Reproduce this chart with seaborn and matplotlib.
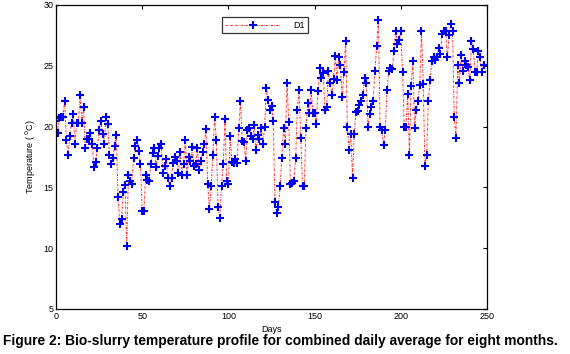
import numpy as np
import pandas as pd
import matplotlib
matplotlib.use("Agg")
import matplotlib.pyplot as plt
import seaborn as sns

temps = [
    # days 0-45
    20.5, 19.5, 20.7, 20.8, 20.8, 22.1, 18.9, 17.7, 19.2, 20.3,
    21.0, 18.6, 20.3, 20.3, 22.6, 20.3, 21.6, 18.2, 19.0, 19.0,
    19.5, 18.6, 16.7, 17.1, 18.2, 19.7, 20.5, 19.4, 18.6, 20.8,
    20.2, 17.7, 16.9, 17.4, 18.4, 19.3, 14.2, 12.0, 12.4, 14.6,
    15.2, 10.2, 16.0, 15.5, 15.3, 17.4,
    # days 46-89
    18.4, 18.9, 18.0, 16.9, 13.1, 13.1, 16.0, 15.6, 15.5, 16.9,
    17.8, 18.2, 16.7, 17.6, 18.2, 18.6, 16.2, 16.8, 17.3, 15.8,
    15.1, 15.8, 17.0, 17.5, 17.2, 16.2, 17.9, 16.0, 16.9, 18.9,
    16.0, 17.5, 17.2, 18.3, 16.8, 16.9, 18.2, 16.4, 17.2, 17.9,
    18.6, 19.8, 15.3, 13.2,
    # days 90-132
    15.1, 17.7, 20.8, 18.9, 13.4, 12.5, 15.1, 16.9, 20.6, 15.5,
    15.3, 19.2, 17.1, 17.0, 17.3, 17.0, 19.9, 22.1, 18.8, 18.7,
    17.2, 19.7, 19.9, 19.2, 19.0, 20.1, 18.1, 19.3, 19.0, 19.9,
    18.6, 20.0, 23.2, 22.2, 21.4, 21.7, 20.5, 13.8, 12.9, 13.4,
    15.1, 17.4, 19.9,
    # days 133-176
    18.6, 23.6, 20.4, 15.3, 15.4, 15.5, 17.4, 21.4, 23.0, 19.1,
    15.1, 15.1, 19.9, 21.9, 21.1, 23.0, 21.1, 21.1, 20.2, 22.9,
    24.8, 24.0, 24.4, 21.4, 21.6, 24.6, 23.6, 22.6, 23.9, 25.8,
    23.8, 25.7, 25.1, 22.4, 24.5, 27.0, 20.0, 18.1, 19.4, 15.8,
    19.4, 21.2, 21.3, 21.8,
    # days 177-220
    22.1, 22.6, 24.0, 23.6, 20.0, 21.0, 21.6, 22.1, 24.6, 26.6,
    28.8, 20.0, 19.7, 18.5, 19.7, 23.0, 24.6, 24.8, 24.7, 26.2,
    27.9, 26.8, 27.1, 27.9, 24.5, 20.0, 20.0, 22.7, 17.7, 23.3,
    25.4, 19.9, 21.4, 22.1, 23.4, 27.9, 23.5, 16.8, 17.7, 22.1,
    23.8, 25.4, 25.7,
    # days 221-247
    25.5, 25.7, 26.5, 26.0, 27.6, 27.9, 27.9, 25.7, 27.5, 28.4,
    27.9, 20.8, 19.1, 25.1, 23.6, 25.9, 24.6, 25.4, 25.1, 24.9,
    23.8, 27.0, 26.4, 24.5, 24.5, 26.2, 25.7, 24.5, 25.1,
]
days = np.arange(len(temps))

x_ticks = [0, 50, 100, 150, 200, 250]
y_ticks = [5, 10, 15, 20, 25, 30]
series_label = "D1"
x_label = "Days"
y_label = "Temperature ( $^{0}$C)"
caption = "Figure 2: Bio-slurry temperature profile for combined daily average for eight months."

df = pd.DataFrame({"day": days, "temp": temps})

sns.set_style("white")
plt.rcParams["font.family"] = ["Liberation Sans", "DejaVu Sans"]
plt.rcParams["text.color"] = "black"
plt.rcParams["axes.labelcolor"] = "black"
plt.rcParams["xtick.color"] = "black"
plt.rcParams["ytick.color"] = "black"

fig = plt.figure(figsize=(5.70, 3.54), dpi=100)
ax = fig.add_axes([56 / 570, 1 - 309 / 354, (487 - 56) / 570, (309 - 5) / 354])

sns.lineplot(data=df, x="day", y="temp", ax=ax, color="#ff2020",
             linestyle=(0, (2.2, 1.2, 0.6, 1.2)),
             linewidth=0.7, marker="+", markersize=5.5, markeredgewidth=1.5,
             markeredgecolor="#0000ee", markerfacecolor="#0000ee",
             label=series_label)

ax.set_xlim(0, 250)
ax.set_ylim(5, 30)
ax.set_xticks(x_ticks)
ax.set_yticks(y_ticks)
ax.tick_params(direction="in", length=3, width=0.8, labelsize=6.5, top=True, right=True,
               colors="black", pad=2)
for s in ax.spines.values():
    s.set_visible(True)
    s.set_color("black")
    s.set_linewidth(0.9)
ax.set_xlabel(x_label, fontsize=6.5, labelpad=3, color="black")
ax.set_ylabel(y_label, fontsize=6.5, labelpad=4, color="black")

leg = ax.legend(loc="upper center", bbox_to_anchor=(0.485, 0.975), fontsize=6.5,
                frameon=True, fancybox=False, edgecolor="black", handlelength=6,
                borderpad=0.4, handletextpad=1.5)
leg.get_frame().set_linewidth(0.9)
for t in leg.get_texts():
    t.set_color("black")

fig.text(0.005, 1 - 341 / 354, caption, fontsize=9.9, fontweight="bold",
         ha="left", va="center", color="black")

fig.savefig("out.png", dpi=100, facecolor="white")
